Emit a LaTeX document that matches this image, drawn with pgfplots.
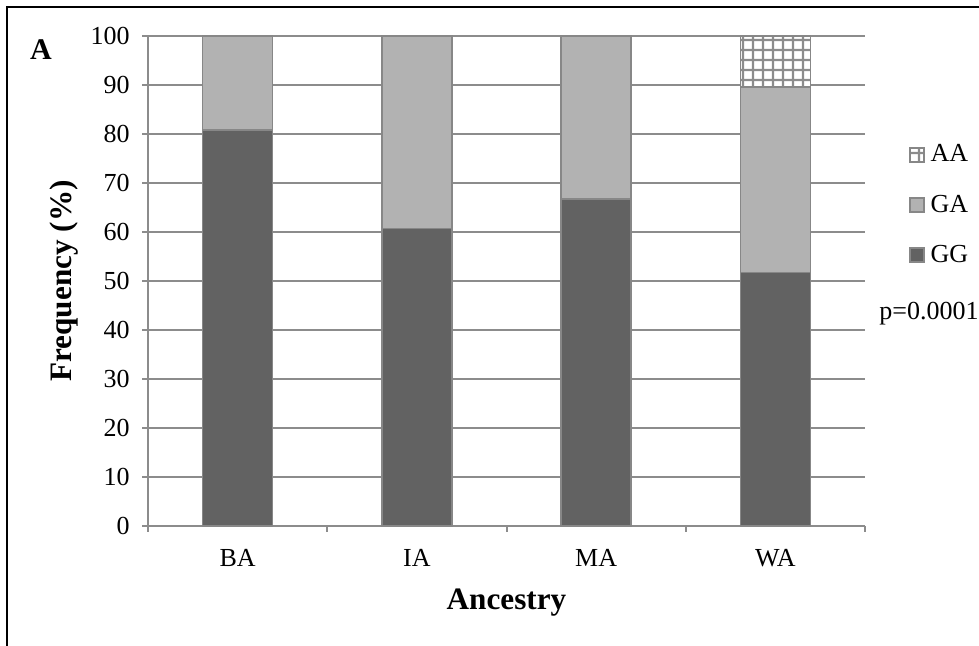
\documentclass[border=0pt]{standalone}
\usepackage{fontspec}
\setmainfont{Liberation Serif}
\usepackage{pgfplots}
\usepackage{pgfplotstable}
\pgfplotsset{compat=1.18}
\usetikzlibrary{patterns.meta}
\definecolor{gg}{HTML}{626262}
\definecolor{ga}{HTML}{B2B2B2}
\definecolor{edge}{HTML}{878787}
\definecolor{gridc}{HTML}{8C8C8C}

\tikzdeclarepattern{
  name=cellgrid,
  type=uncolored,
  bounding box={(0pt,0pt) and (5.2pt,5.2pt)},
  tile size={(5.2pt,5.2pt)},
  code={
    \draw[line width=1.2pt] (0pt,2.6pt) -- (5.2pt,2.6pt);
    \draw[line width=1.2pt] (2.6pt,0pt) -- (2.6pt,5.2pt);
  }
}

\pgfplotstableread{
x GG GA AA
0 80.8 19.2 0
1 60.7 39.3 0
2 66.7 33.3 0
3 51.7 37.9 10.4
}\ancestrydata

\newcommand{\tickfont}{\fontsize{13}{15}\selectfont}
\newcommand{\titlefont}{\fontsize{15.6}{19}\selectfont\bfseries}

\pgfplotsset{
  sqlegend/.style={legend image code/.code={\draw[##1, line width=0.75pt] (0pt,-3.5pt) rectangle (7pt,3.5pt);}}
}

\begin{document}
\begin{tikzpicture}
\path[use as bounding box] (0pt,0pt) rectangle (489.5pt,323pt);
\draw[black, line width=1pt] (3.6pt,0pt) -- (3.6pt,319.4pt) -- (489.5pt,319.4pt);
\node[font=\fontsize{15}{18}\selectfont\bfseries, anchor=base, inner sep=0pt] at (20.5pt,293pt) {A};
\begin{axis}[
  at={(74pt,60pt)}, anchor=south west,
  scale only axis, width=358.5pt, height=245pt,
  clip=false,
  ybar stacked, bar width=35pt,
  xmin=-0.5, xmax=3.5, ymin=0, ymax=100,
  enlargelimits=false,
  axis x line*=bottom, axis y line*=left,
  axis line style={draw=gridc, line width=1pt},
  ymajorgrids, grid style={draw=gridc, line width=1pt},
  ytick={0,10,...,100},
  xtick={0,1,2,3}, xticklabels={BA,IA,MA,WA},
  minor xtick={-0.5,0.5,1.5,2.5,3.5},
  tick align=outside, major tick length=3pt, minor tick length=3pt,
  tick style={draw=gridc, line width=1pt},
  major x tick style={draw=none},
  minor x tick style={draw=gridc, line width=1pt},
  /pgf/number format/assume math mode=true,
  tick label style={font=\tickfont},
  yticklabel style={inner sep=0pt, xshift=-6pt},
  xticklabel style={inner sep=0pt, yshift=-8.5pt},
  xlabel={Ancestry},
  xlabel style={at={(axis description cs:0.5,-0.1714)}, anchor=base, font=\titlefont, inner sep=0pt},
  ylabel={Frequency (\%)},
  ylabel style={at={(axis description cs:-0.106,0.5)}, anchor=base, font=\titlefont, inner sep=0pt},
  reverse legend,
  legend style={at={(1.061,0.655)}, anchor=west, draw=none, fill=none, inner sep=0pt,
    font=\tickfont, row sep=15pt, nodes={inner sep=0pt},
    /tikz/every odd column/.append style={column sep=3pt}},
  legend cell align=left,
]
\addplot[fill=gg, draw=edge, line width=0.75pt, sqlegend] table[x=x, y=GG] {\ancestrydata};
\addlegendentry{GG}
\addplot[fill=ga, draw=edge, line width=0.75pt, sqlegend] table[x=x, y=GA] {\ancestrydata};
\addlegendentry{GA}
\addplot[fill=white, draw=edge, line width=0.75pt, postaction={pattern={cellgrid}, pattern color=gridc}, sqlegend] table[x=x, y=AA] {\ancestrydata};
\addlegendentry{AA}
\node[anchor=base west, inner sep=0pt, font=\tickfont] at (rel axis cs:1.0195,0.422) {p=0.0001};
\end{axis}
\end{tikzpicture}
\end{document}
